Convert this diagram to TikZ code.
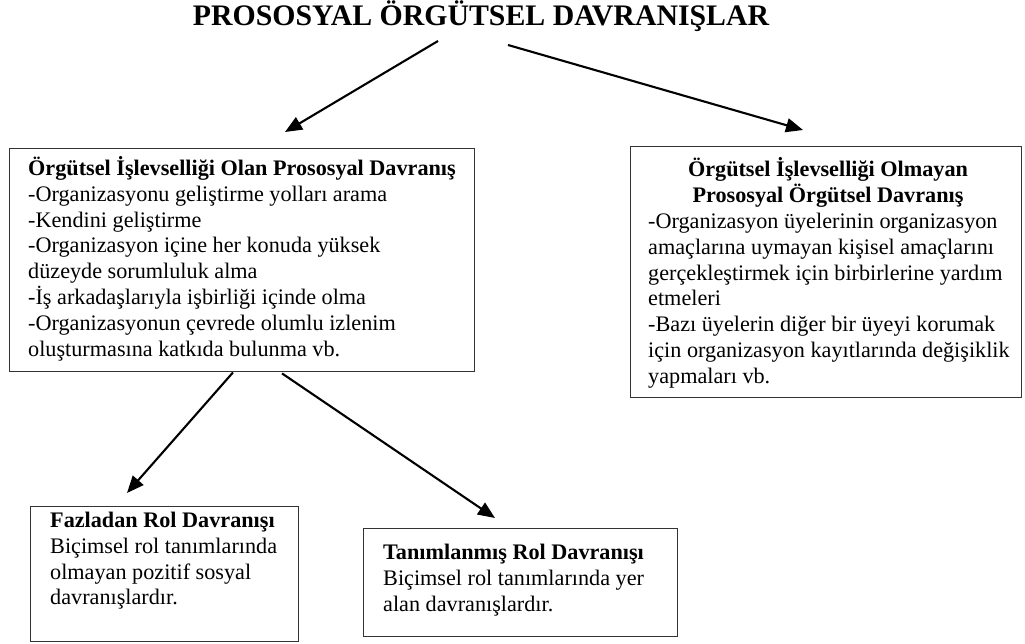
\documentclass[tikz,border=0pt]{standalone}
\usepackage{fontspec}
\setmainfont{Liberation Serif}
\usetikzlibrary{arrows.meta,calc}
\begin{document}
\begin{tikzpicture}[x=1pt,y=-1pt,
  box/.style={draw=black!80,line width=1.4pt,inner sep=0pt,anchor=north west},
  txt/.style={anchor=north west,inner sep=0pt,align=left,font=\fontsize{22.2}{25.9}\selectfont},
  arr/.style={line width=2.1pt,-{Triangle[length=17pt,width=14pt]}}]
\path[use as bounding box] (0,0) rectangle (1025,644);
% title
\node[anchor=base,inner sep=0pt,font=\fontsize{29.8}{34}\selectfont\bfseries] (title) at (481,26) {PROSOSYAL ÖRGÜTSEL DAVRANIŞLAR};
% boxes
\node[box,minimum width=465pt,minimum height=223pt] (b1) at (9,148) {};
\node[box,minimum width=391pt,minimum height=251pt] (b2) at (630,146) {};
\node[box,minimum width=268pt,minimum height=135pt] (b3) at (30,506) {};
\node[box,minimum width=314pt,minimum height=108pt] (b4) at (363,528) {};
% texts
\node[txt] (t1) at (28,153) {\rule{0pt}{22pt}\textbf{Örgütsel İşlevselliği Olan Prososyal Davranış}\\
-Organizasyonu geliştirme yolları arama\\
-Kendini geliştirme\\
-Organizasyon içine her konuda yüksek\\
düzeyde sorumluluk alma\\
-İş arkadaşlarıyla işbirliği içinde olma\\
-Organizasyonun çevrede olumlu izlenim\\
oluşturmasına katkıda bulunma vb.};
\node[txt,anchor=north,align=center] (t2h) at (828,154) {\rule{0pt}{22pt}\textbf{Örgütsel İşlevselliği Olmayan}\\
\textbf{Prososyal Örgütsel Davranış}};
\node[txt] (t2) at (648,206) {\rule{0pt}{22pt}-Organizasyon üyelerinin organizasyon\\
amaçlarına uymayan kişisel amaçlarını\\
gerçekleştirmek için birbirlerine yardım\\
etmeleri\\
-Bazı üyelerin diğer bir üyeyi korumak\\
için organizasyon kayıtlarında değişiklik\\
yapmaları vb.};
\node[txt] (t3) at (50,505) {\rule{0pt}{22pt}\textbf{Fazladan Rol Davranışı}\\
Biçimsel rol tanımlarında\\
olmayan pozitif sosyal\\
davranışlardır.};
\node[txt] (t4) at (383,537) {\rule{0pt}{22pt}\textbf{Tanımlanmış Rol Davranışı}\\
Biçimsel rol tanımlarında yer\\
alan davranışlardır.};
% arrows
\draw[arr] ($(title.base)+(-43,15)$) -- ($(b1.north west)+(276,-16)$);
\draw[arr] ($(title.base)+(27,19)$) -- ($(b2.north west)+(173,-16)$);
\draw[arr] ($(b1.south west)+(224,0)$) -- ($(b3.north west)+(97,-13)$);
\draw[arr] ($(b1.south west)+(273,1)$) -- ($(b4.north west)+(132,-10)$);
\end{tikzpicture}
\end{document}
